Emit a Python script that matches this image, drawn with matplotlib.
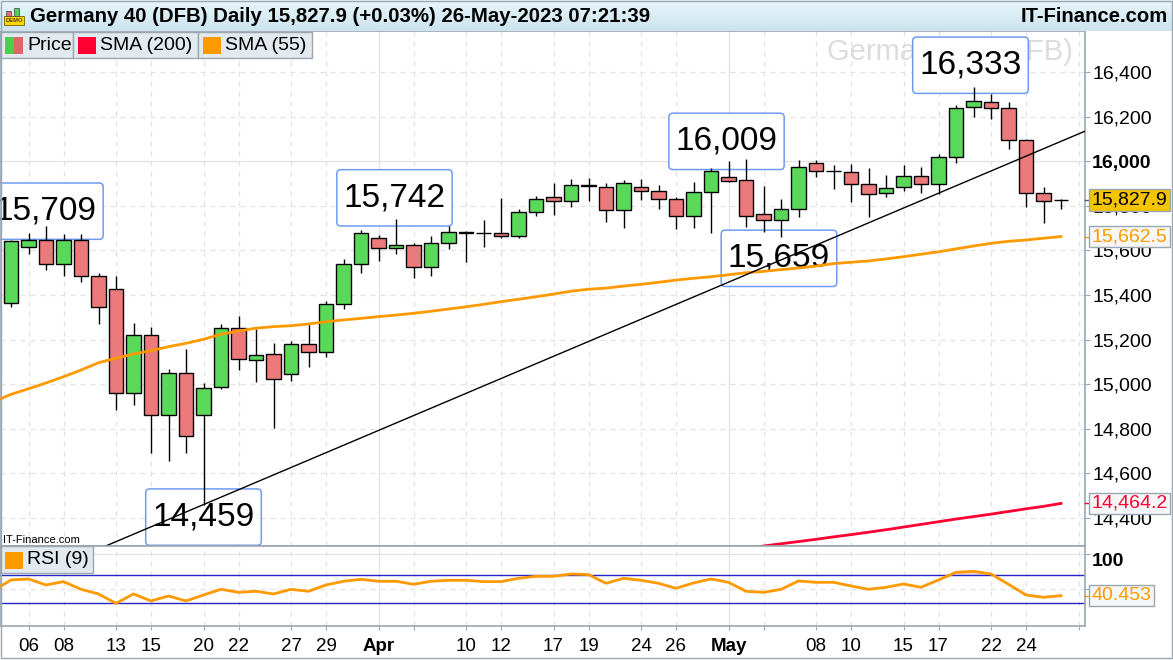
import numpy as np
import pandas as pd
import matplotlib
matplotlib.use("Agg")
import matplotlib.pyplot as plt
from matplotlib.patches import Rectangle, BoxStyle

plt.rcParams['font.family'] = ['Liberation Sans', 'DejaVu Sans']

# trading days (all weekdays); Mar 2 only feeds the lines that enter from the left edge
days = pd.bdate_range("2023-03-02", "2023-05-26")
candle_days = days[1:]

open_ = [15363, 15614, 15646, 15538, 15646, 15484, 15427, 14959, 15220,
         14860, 15048, 14860, 14986, 15250, 15108, 15135, 15044, 15179, 15143,
         15358, 15538, 15655, 15610, 15623, 15524, 15632, 15683, 15680, 15677,
         15664, 15771, 15839, 15821, 15895, 15886, 15780, 15886, 15866, 15830,
         15756, 15861, 15931, 15915, 15762, 15737, 15785, 15991, 15958, 15951,
         15897, 15857, 15884, 15933, 15897, 16018, 16243, 16268, 16238, 16095,
         15859, 15825]
high = [15649, 15680, 15709, 15674, 15674, 15497, 15485, 15276, 15258,
        15066, 15156, 15004, 15268, 15306, 15246, 15183, 15193, 15268, 15374,
        15562, 15692, 15668, 15742, 15632, 15665, 15710, 15686, 15737, 15834,
        15786, 15845, 15902, 15920, 15924, 15902, 15916, 15920, 15894, 15841,
        15907, 15969, 16000, 16009, 15889, 15830, 16006, 16006, 15984, 15988,
        15969, 15939, 15982, 15973, 16033, 16253, 16333, 16301, 16265, 16099,
        15884, 15832]
low = [15347, 15584, 15512, 15487, 15460, 15270, 14884, 14906, 14692,
       14656, 14689, 14459, 14977, 15063, 15011, 14801, 15015, 15078, 15123,
       15336, 15500, 15553, 15583, 15478, 15487, 15605, 15550, 15617, 15655,
       15655, 15756, 15761, 15796, 15823, 15729, 15702, 15827, 15785, 15695,
       15700, 15677, 15909, 15704, 15684, 15659, 15749, 15931, 15875, 15819,
       15752, 15841, 15868, 15857, 15852, 15994, 16201, 16192, 16057, 15796,
       15725, 15785]
close = [15642, 15646, 15538, 15646, 15484, 15345, 14959, 15220, 14860,
         15048, 14767, 14981, 15250, 15111, 15131, 15024, 15179, 15143, 15358,
         15538, 15677, 15610, 15623, 15524, 15632, 15684, 15680, 15678, 15664,
         15771, 15830, 15821, 15895, 15888, 15780, 15902, 15867, 15830, 15756,
         15861, 15957, 15913, 15756, 15737, 15785, 15973, 15957, 15955, 15897,
         15852, 15879, 15933, 15897, 16018, 16241, 16272, 16238, 16095, 15859,
         15821, 15827.9]

sma55 = [14920, 14954, 14979, 15005, 15033, 15063, 15096, 15116, 15135, 15150,
         15168, 15183, 15201, 15224, 15238, 15251, 15258, 15262, 15270, 15280,
         15288, 15295, 15303, 15310, 15318, 15327, 15337, 15347, 15358, 15370,
         15381, 15392, 15404, 15417, 15426, 15431, 15440, 15448, 15457, 15467,
         15475, 15482, 15491, 15500, 15506, 15514, 15521, 15530, 15541, 15547,
         15553, 15562, 15572, 15583, 15594, 15607, 15620, 15632, 15641, 15647,
         15655, 15662.5]
# SMA 200 only enters the window in May
sma200 = [np.nan] * 42 + [14252, 14262, 14273, 14283, 14293, 14303, 14314, 14324,
                          14335, 14346, 14358, 14370, 14382, 14394, 14405, 14416,
                          14428, 14440, 14451, 14464.2]

rsi9 = [47.7, 62.9, 64.3, 55.7, 60.5, 49.5, 42.9, 29.5, 42.9, 32.9,
        40.0, 32.9, 41.4, 49.5, 45.2, 46.7, 42.9, 49.5, 46.7, 55.7,
        61.0, 63.8, 61.0, 61.0, 56.7, 61.0, 62.4, 62.4, 60.5, 60.5,
        65.2, 68.1, 68.1, 71.4, 70.5, 58.1, 65.2, 62.4, 58.1, 51.0,
        58.6, 64.3, 59.5, 46.7, 45.2, 49.5, 61.4, 59.5, 59.5, 54.3,
        49.5, 52.4, 57.1, 52.4, 62.9, 73.8, 75.2, 71.4, 56.7, 41.4,
        38.1, 40.453]

tick_dates = ["2023-03-06", "2023-03-08", "2023-03-13", "2023-03-15", "2023-03-20",
              "2023-03-22", "2023-03-27", "2023-03-29", "2023-04-03", "2023-04-05",
              "2023-04-10", "2023-04-12", "2023-04-17", "2023-04-19", "2023-04-24",
              "2023-04-26", "2023-05-01", "2023-05-03", "2023-05-08", "2023-05-10",
              "2023-05-15", "2023-05-17", "2023-05-22", "2023-05-24", "2023-05-29"]
tick_labels = ["06", "08", "13", "15", "20", "22", "27", "29", "Apr", "",
               "10", "12", "17", "19", "24", "26", "May", "", "08", "10",
               "15", "17", "22", "24", ""]

trend_dates = ["2023-03-20", "2023-05-26"]
trend_values = [14459, 16090]

callout_dates = ["2023-03-07", "2023-04-04", "2023-03-20", "2023-05-02", "2023-05-04", "2023-05-19"]
callout_values = [15709, 15742, 14459, 16009, 15659, 16333]
# pixel offset of each box centre from its candle extreme
callout_offsets = [(-0.5, 15), (-1.5, 21), (0, -12.5), (-19.5, 18), (-2, -21), (-3, 22)]

W, H = 1173, 660
GREEN, RED = '#5ad85a', '#ec7a7a'
FRAME = '#9aa7b0'
GRID = '#e2e2e2'


def day_pos(d):
    return int(np.busday_count(days[0].strftime("%Y-%m-%d"), d))


def fx(px):
    return px / W


def fy(py):
    return 1 - py / H


x = np.arange(len(days))
xc = np.array([day_pos(d.strftime("%Y-%m-%d")) for d in candle_days])
o, h, l, c = map(np.array, (open_, high, low, close))

fig = plt.figure(figsize=(W / 100, H / 100), dpi=100)
fig.patch.set_facecolor('white')
ax = fig.add_axes([0, fy(546), fx(1085), 515 / H])
ax_rsi = fig.add_axes([0, fy(626), fx(1085), 80 / H], sharex=ax)

# header bar with gradient
hdr = fig.add_axes([0, fy(31), 1, 31 / H])
grad = np.linspace(0, 1, 50)[:, None]
top_c, bot_c = np.array([0.91, 0.965, 0.985]), np.array([0.80, 0.89, 0.93])
hdr.imshow(top_c + grad[:, :, None] * (bot_c - top_c), aspect='auto', extent=[0, 1, 0, 1])
hdr.set_axis_off()
fig.text(fx(30), fy(16), "Germany 40 (DFB) Daily 15,827.9 (+0.03%) 26-May-2023 07:21:39",
         fontsize=14.7, fontweight='bold', va='center', ha='left')
fig.text(fx(1168), fy(16), "IT-Finance.com", fontsize=14.6, fontweight='bold', va='center', ha='right')
# little demo icon
fig.add_artist(Rectangle((fx(4), fy(25)), fx(20), 9 / H, transform=fig.transFigure,
                         fc='#ffd800', ec='#7a5c00', lw=0.6))
fig.text(fx(14), fy(20.5), "DEMO", fontsize=4.2, fontweight='bold', color='#5a3c00',
         ha='center', va='center')
fig.add_artist(Rectangle((fx(6), fy(16)), fx(5), 5 / H, transform=fig.transFigure,
                         fc='#e07070', ec='#444444', lw=0.5))
fig.add_artist(Rectangle((fx(14), fy(16)), fx(5), 8 / H, transform=fig.transFigure,
                         fc='#55cc55', ec='#444444', lw=0.5))

# ---- price panel ----
ax.set_xlim(-11 / 17.5 + 1, 1 + 1074 / 17.5)
ax.set_ylim(14273, 16585.4)

for v in range(14400, 16600, 200):
    ax.axhline(v, color=GRID, lw=0.9, ls='-' if v == 16000 else (0, (4, 4)), zorder=0.5)
tick_pos = [day_pos(d) for d in tick_dates]
for p, lab in zip(tick_pos, tick_labels):
    style = '-' if lab in ('Apr', 'May') else (0, (4, 4))
    ax.axvline(p, color=GRID, lw=0.9, ls=style, zorder=0.5)
    ax_rsi.axvline(p, color=GRID, lw=0.9, ls=style, zorder=0.5)

ax.text(fx(1073) / fx(1085), (546 - 52) / 515, "Germany 40 (DFB)", transform=ax.transAxes,
        fontsize=21, color='#dcdcdc', ha='right', va='center', zorder=1)

_round = BoxStyle.Round(pad=0, rounding_size=0.12)


def callout_box(x0, y0, width, height, mutation_size):
    px, py = 0.2 * mutation_size, 0.38 * mutation_size
    return _round(x0 - px, y0 - py, width + 2 * px, height + 2 * py, mutation_size)


for d, v, (dx, dy) in zip(callout_dates, callout_values, callout_offsets):
    ax.annotate(f"{v:,}", xy=(day_pos(d), v), xytext=(dx, dy), textcoords='offset pixels',
                ha='center', va='center', fontsize=24, zorder=1.5, annotation_clip=False,
                bbox=dict(boxstyle=callout_box, fc='white', ec='#6f9cf0', lw=1.1), clip_on=True)

ax.vlines(xc, l, h, color='black', lw=1, zorder=3)
ax.bar(xc, np.abs(c - o), bottom=np.minimum(o, c), width=0.82,
       color=np.where(c >= o, GREEN, RED), edgecolor='black', linewidth=1, zorder=4)

ax.plot(x, sma55, color='#ff9900', lw=2, zorder=5)
ax.plot(x, sma200, color='#ff0033', lw=2, zorder=5)
ax.axline((day_pos(trend_dates[0]), trend_values[0]), (day_pos(trend_dates[1]), trend_values[1]),
          color='black', lw=1, zorder=5)

ax.text(3 / 1085, 6 / 515, "IT-Finance.com", transform=ax.transAxes, fontsize=8,
        ha='left', va='center', zorder=6)

ax.yaxis.tick_right()
yt = list(range(14400, 16401, 200))
ax.set_yticks(yt)
ax.set_yticklabels([f"{v:,}" for v in yt], fontsize=14)
for t, v in zip(ax.get_yticklabels(), yt):
    if v == 16000:
        t.set_fontweight('bold')
ax.tick_params(axis='y', length=3.6, pad=1.5, color=FRAME)
ax.tick_params(axis='x', bottom=False, labelbottom=False)
for s in ax.spines.values():
    s.set_color(FRAME)
    s.set_linewidth(1.2)

# legend strip
legend_items = [(0, 73, "Price", None), (73, 198, "SMA (200)", '#ff0033'), (198, 312, "SMA (55)", '#ff9900')]
for x0, x1, lab, col in legend_items:
    fig.add_artist(Rectangle((fx(x0), fy(58)), fx(x1 - x0), 26 / H, transform=fig.transFigure,
                             fc='#e3eaef', ec=FRAME, lw=1, zorder=5))
    if col is None:
        fig.add_artist(Rectangle((fx(x0 + 5), fy(54)), fx(9), 17.5 / H, transform=fig.transFigure,
                                 fc='#4ccf4c', ec='none', zorder=6))
        fig.add_artist(Rectangle((fx(x0 + 14), fy(54)), fx(9), 17.5 / H, transform=fig.transFigure,
                                 fc='#e06666', ec='none', zorder=6))
    else:
        fig.add_artist(Rectangle((fx(x0 + 5), fy(54)), fx(18), 17.5 / H, transform=fig.transFigure,
                                 fc=col, ec='none', zorder=6))
    fig.text(fx(x0 + 27), fy(45.5), lab, fontsize=14, va='center', ha='left', zorder=7)


def value_box(axis, y, text, fc, tc, tick_c):
    axis.plot([1, 1 + 5 / 1085], [y, y], transform=axis.get_yaxis_transform(),
              color=tick_c, lw=1, clip_on=False, zorder=19)
    axis.text(1 + 6.5 / 1085, y, text, transform=axis.get_yaxis_transform(), ha='left',
              va='center', fontsize=14, color=tc, zorder=20, clip_on=False,
              bbox=dict(boxstyle='square,pad=0.12', fc=fc, ec=FRAME, lw=1))


value_box(ax, close[-1], f"{close[-1]:,.1f}", '#f5c400', 'black', '#555555')
value_box(ax, sma55[-1], f"{sma55[-1]:,.1f}", '#f7f7f7', '#ff9900', '#ff9900')
value_box(ax, sma200[-1], f"{sma200[-1]:,.1f}", '#f7f7f7', '#ff0033', '#ff0033')

# ---- RSI panel ----
rsi = np.array(rsi9)
ax_rsi.set_ylim(-2.9, 111.4)
ax_rsi.axhline(100, color=GRID, lw=0.9, zorder=0.5)
ax_rsi.axhline(50, color=GRID, lw=0.9, ls=(0, (4, 4)), zorder=0.5)
ax_rsi.axhline(70, color='#2424c8', lw=1, zorder=2)
ax_rsi.axhline(30, color='#2424c8', lw=1, zorder=2)
ax_rsi.fill_between(x, 70, rsi, where=rsi > 70, interpolate=True, color='#f2d4d4', zorder=1)
ax_rsi.fill_between(x, 30, rsi, where=rsi < 30, interpolate=True, color='#f2d4d4', zorder=1)
ax_rsi.plot(x, rsi, color='#ff9900', lw=2, zorder=3)

ax_rsi.yaxis.tick_right()
ax_rsi.set_yticks([50, 100])
ax_rsi.set_yticklabels(["", ""])
ax_rsi.tick_params(axis='y', length=3.6, color=FRAME)
ax_rsi.annotate("100", xy=(1, 100), xycoords=ax_rsi.get_yaxis_transform(), xytext=(7, -8),
                textcoords='offset pixels', ha='left', va='center', fontsize=14,
                fontweight='bold', annotation_clip=False)
value_box(ax_rsi, rsi9[-1], f"{rsi9[-1]:.3f}", '#f7f7f7', '#ff9900', '#ff9900')

ax_rsi.set_xticks(tick_pos)
ax_rsi.set_xticklabels(tick_labels, fontsize=13.5)
for t, lab in zip(ax_rsi.get_xticklabels(), tick_labels):
    if lab in ('Apr', 'May'):
        t.set_fontweight('bold')
ax_rsi.tick_params(axis='x', length=3, pad=5.5, color=FRAME)
for s in ax_rsi.spines.values():
    s.set_color(FRAME)
    s.set_linewidth(1.2)

fig.add_artist(Rectangle((0, fy(573)), fx(93), 27 / H, transform=fig.transFigure,
                         fc='#e3eaef', ec=FRAME, lw=1, zorder=5))
fig.add_artist(Rectangle((fx(5), fy(569)), fx(18), 17 / H, transform=fig.transFigure,
                         fc='#ff9900', ec='none', zorder=6))
fig.text(fx(27), fy(560), "RSI (9)", fontsize=14, va='center', ha='left', zorder=7)

# outer frame
fig.add_artist(Rectangle((fx(0.5), fy(658)), fx(1171.5), 657.5 / H, transform=fig.transFigure,
                         fill=False, ec=FRAME, lw=1, zorder=8))

fig.savefig("out.png", dpi=100)
